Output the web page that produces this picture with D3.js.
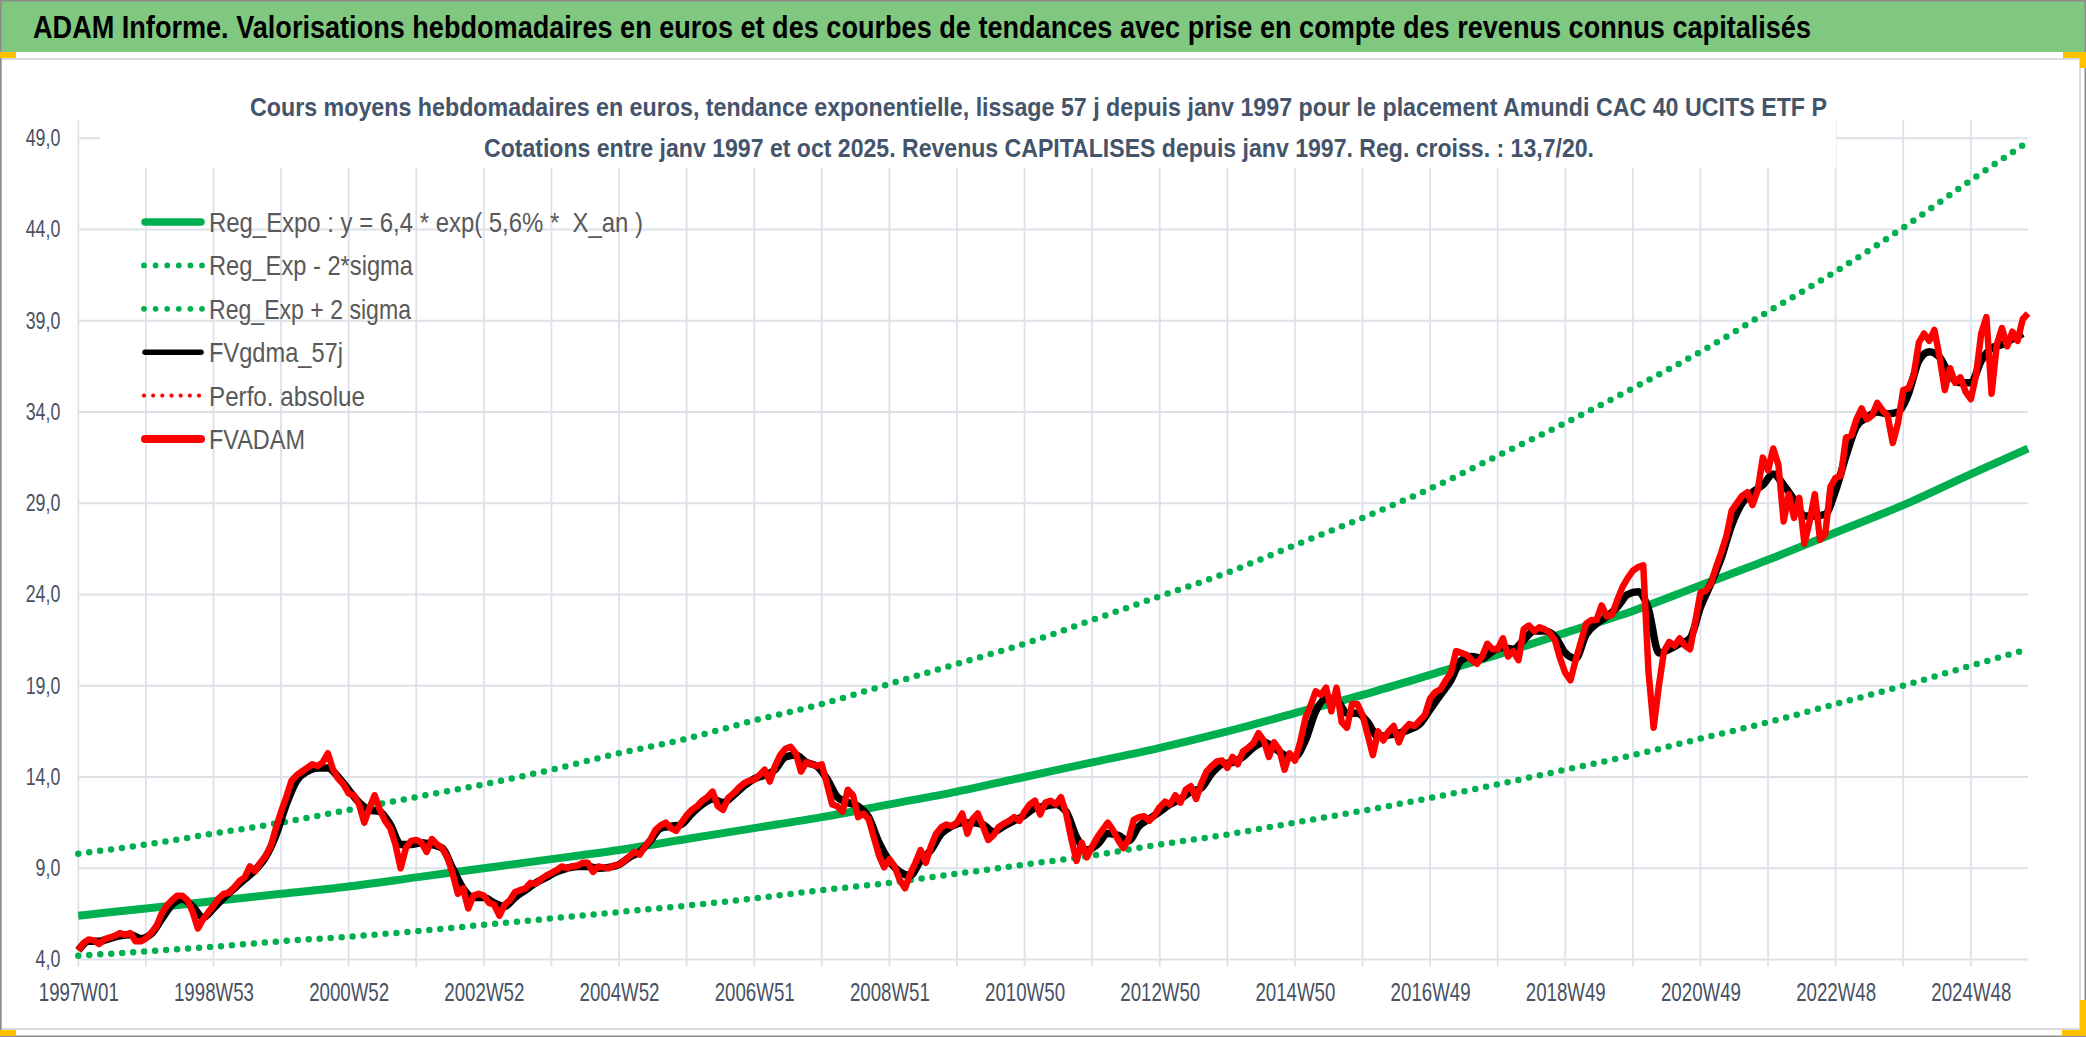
<!DOCTYPE html>
<html>
<head>
<meta charset="utf-8">
<script src="https://cdn.jsdelivr.net/npm/d3@7.9.0/dist/d3.min.js"></script>
<style>
  body { margin: 0; background: #fff; }
  svg { display: block; font-family: "Liberation Sans Narrow", "Arial Narrow", "Liberation Sans", sans-serif; }
</style>
</head>
<body>
<svg id="chart" width="2086" height="1037"></svg>
<script>
const width = 2086;
const height = 1037;
const plot = { left: 78.3, right: 2028, top: 120, bottom: 959.5 };

// FVADAM, one value every 4 weeks from 1997W01
const redStep = 4;
const fvadam = [
  4.5, 4.9, 5.1, 5.05, 4.85, 5.1, 5.2, 5.3, 5.45, 5.35,
  5.45, 5.0, 5.0, 5.15, 5.45, 5.8, 6.5, 6.95, 7.25, 7.5,
  7.5, 7.25, 6.6, 5.7, 6.2, 6.6, 6.95, 7.35, 7.6, 7.65,
  7.95, 8.3, 8.5, 9.1, 8.85, 9.3, 9.65, 10.2, 11.2, 12.1,
  12.9, 13.8, 14.1, 14.3, 14.5, 14.7, 14.6, 14.8, 15.3, 14.4,
  13.9, 13.6, 13.1, 13.0, 12.5, 11.5, 12.3, 13.0, 12.2, 11.6,
  11.2, 10.3, 9.0, 10.1, 10.5, 10.55, 10.4, 9.9, 10.6, 10.3,
  10.1, 9.6, 8.7, 7.6, 7.9, 6.8, 7.5, 7.6, 7.5, 7.1,
  7.0, 6.4, 7.0, 7.25, 7.7, 7.8, 7.9, 8.2, 8.15, 8.4,
  8.6, 8.75, 8.9, 9.1, 9.0, 9.1, 9.15, 9.3, 9.3, 8.8,
  9.1, 9.05, 9.0, 9.15, 9.2, 9.4, 9.65, 9.9, 9.75, 10.2,
  10.55, 11.1, 11.35, 11.5, 11.2, 11.05, 11.5, 11.9, 12.2, 12.4,
  12.7, 12.9, 13.2, 12.4, 12.2, 12.85, 13.1, 13.4, 13.65, 13.8,
  13.85, 14.1, 14.4, 13.75, 14.6, 15.2, 15.55, 15.65, 15.3, 14.3,
  14.8, 14.7, 14.6, 14.7, 13.6, 12.5, 12.4, 12.1, 13.3, 13.0,
  11.8, 12.0, 11.7, 10.7, 9.7, 9.05, 9.5, 9.1, 8.35, 7.9,
  8.7, 9.3, 10.0, 9.3, 10.2, 10.9, 11.25, 11.4, 11.3, 11.5,
  12.0, 10.9, 11.7, 12.0, 11.3, 10.55, 10.8, 11.25, 11.45, 11.6,
  11.8, 11.6, 12.1, 12.5, 12.7, 11.95, 12.6, 12.7, 12.5, 12.9,
  12.0, 10.6, 9.4, 10.4, 9.6, 10.2, 10.7, 11.1, 11.5, 11.1,
  10.55, 10.1, 10.6, 11.65, 11.8, 11.85, 11.6, 11.9, 12.35, 12.65,
  12.5, 13.0, 12.6, 13.3, 13.5, 12.8, 13.65, 14.3, 14.6, 14.85,
  14.9, 14.5, 15.1, 14.7, 15.4, 15.6, 15.85, 16.4, 16.0, 15.1,
  15.9, 15.5, 14.4, 15.3, 14.9, 15.9, 17.2, 17.9, 18.7, 18.5,
  18.9, 17.6, 18.9, 17.0, 16.7, 18.0, 18.0, 17.4, 16.3, 15.2,
  16.5, 16.0, 16.5, 16.8, 15.9, 16.6, 16.9, 16.8, 17.1, 17.4,
  18.3, 18.65, 18.8, 19.3, 19.7, 20.9, 20.8, 20.7, 20.4, 20.2,
  20.6, 21.3, 21.0, 21.0, 21.6, 20.6, 20.9, 20.4, 22.1, 22.3,
  22.0, 22.2, 22.1, 21.9, 21.5, 20.5, 19.7, 19.3, 20.4, 21.4,
  22.4, 22.6, 22.6, 23.4, 22.8, 22.9, 23.7, 24.4, 24.9, 25.3,
  25.5, 25.6, 19.8, 16.7, 19.0, 20.9, 21.4, 21.2, 21.6, 21.2,
  21.0, 22.5, 24.1, 24.2, 24.6, 25.5, 26.3, 27.2, 28.6, 29.0,
  29.4, 29.6, 28.9, 29.7, 31.5, 30.8, 32.0, 31.1, 28.0, 29.5,
  28.2, 29.3, 26.8, 28.0, 29.5, 27.0, 27.3, 29.9, 30.4, 30.5,
  32.6, 32.7, 33.6, 34.2, 33.6, 33.8, 34.5, 34.1, 33.8, 32.3,
  33.4, 35.2, 35.3, 36.0, 37.8, 38.3, 37.9, 38.5, 37.0, 35.2,
  36.4, 35.6, 35.9, 35.1, 34.7, 36.0, 38.3, 39.2, 35.0, 37.7,
  38.6, 37.6, 38.4, 37.9, 39.1, 39.4
];

// FVgdma_57j (smoothed), one value every 8 weeks
const blackStep = 8;
const fvgdma = [
  4.5, 5.0, 5.0, 5.15, 5.3, 5.35, 5.15, 5.4, 6.2, 7.0,
  7.3, 6.9, 6.3, 6.8, 7.4, 7.9, 8.4, 8.9, 9.6, 10.8,
  12.5, 13.8, 14.3, 14.5, 14.5, 14.0, 13.3, 12.6, 12.2, 12.1,
  11.4, 10.3, 10.3, 10.4, 10.3, 10.1, 9.0, 7.9, 7.4, 7.4,
  7.1, 6.9, 7.4, 7.8, 8.2, 8.5, 8.8, 9.0, 9.1, 9.1,
  9.0, 9.05, 9.2, 9.6, 9.9, 10.5, 11.2, 11.3, 11.4, 12.0,
  12.5, 12.8, 12.6, 13.0, 13.5, 13.9, 14.1, 14.4, 15.1, 15.2,
  14.8, 14.6, 13.9, 12.9, 12.6, 12.4, 11.8, 10.4, 9.4, 8.8,
  8.6, 9.4, 10.0, 10.9, 11.3, 11.5, 11.5, 11.4, 11.0, 11.3,
  11.6, 11.9, 12.3, 12.4, 12.5, 12.1, 10.7, 10.0, 10.3, 10.9,
  10.8, 10.5, 11.3, 11.7, 12.1, 12.5, 12.8, 13.2, 13.4, 14.2,
  14.7, 14.8, 15.1, 15.6, 15.9, 15.6, 15.2, 15.1, 16.0, 17.6,
  18.3, 18.2, 17.5, 17.5, 17.0, 16.2, 16.3, 16.4, 16.6, 16.9,
  17.7, 18.5, 19.3, 20.4, 20.6, 20.5, 20.9, 21.1, 21.0, 21.5,
  22.0, 22.0, 21.7, 20.8, 20.5, 21.8, 22.4, 22.8, 23.3, 24.0,
  24.15, 23.2, 20.8, 21.0, 21.3, 21.6, 23.3, 24.6, 26.0, 27.8,
  29.0, 29.6, 30.0, 30.6, 30.0, 29.2, 28.3, 28.3, 28.4, 29.7,
  31.6, 33.2, 33.7, 34.0, 33.9, 34.0, 35.0, 36.8, 37.3, 37.0,
  36.0, 35.6, 35.6, 36.8, 37.5, 37.7, 38.0, 38.3
];

// trend curves, read once a year (week index) and at the last week
const trendWeeks = [0, 52, 104, 156, 208, 260, 312, 364, 416, 468, 520, 572, 624, 676, 728,
  780, 832, 884, 936, 988, 1040, 1092, 1144, 1196, 1248, 1300, 1352, 1404, 1456, 1500];
const regExpo = [6.4, 6.8, 7.2, 7.6, 8.0, 8.5, 9.0, 9.5, 10.0, 10.6, 11.2, 11.8, 12.5, 13.2, 14.0,
  14.8, 15.6, 16.5, 17.5, 18.5, 19.6, 20.7, 21.9, 23.1, 24.5, 25.9, 27.4, 28.9, 30.6, 32.0];
const regHigh = [9.8, 10.3, 10.9, 11.5, 12.2, 12.9, 13.6, 14.4, 15.3, 16.1, 17.1, 18.0, 19.1, 20.2, 21.3,
  22.6, 23.9, 25.2, 26.7, 28.2, 29.8, 31.6, 33.4, 35.3, 37.3, 39.5, 41.7, 44.1, 46.7, 48.8];
const regLow = [4.2, 4.45, 4.7, 5.0, 5.25, 5.55, 5.9, 6.25, 6.6, 6.95, 7.35, 7.8, 8.2, 8.7, 9.2,
  9.7, 10.3, 10.85, 11.5, 12.15, 12.85, 13.6, 14.4, 15.2, 16.1, 17.0, 18.0, 19.0, 20.1, 21.0];

const xTickLabels = ["1997W01", "1998W53", "2000W52", "2002W52", "2004W52", "2006W51", "2008W51",
  "2010W50", "2012W50", "2014W50", "2016W49", "2018W49", "2020W49", "2022W48", "2024W48"];
const yTicks = [4, 9, 14, 19, 24, 29, 34, 39, 44, 49];

const legendLabels = ["Reg_Expo : y = 6,4 * exp( 5,6% *  X_an )", "Reg_Exp - 2*sigma",
  "Reg_Exp + 2 sigma", "FVgdma_57j", "Perfo. absolue", "FVADAM"];

const bannerTitle = "ADAM Informe. Valorisations hebdomadaires en euros et des courbes de tendances avec prise en compte des revenus connus capitalisés";
const chartTitle1 = "Cours moyens hebdomadaires en euros, tendance exponentielle, lissage 57 j depuis janv 1997 pour le placement Amundi CAC 40 UCITS ETF P";
const chartTitle2 = "Cotations entre janv 1997 et oct 2025. Revenus CAPITALISES depuis janv 1997. Reg. croiss. : 13,7/20.";

const GREEN = "#00b050";
const GRID = "#dde1e8";
const AXIS_TEXT = "#475163";

const svg = d3.select("#chart");

const x = d3.scaleLinear().domain([0, 1500]).range([plot.left, plot.right]);
const y = d3.scaleLinear().domain([4, 50]).range([plot.bottom, plot.top]);

// frame
svg.append("rect").attr("width", width).attr("height", height).attr("fill", "#fff");
svg.append("rect").attr("x", 0).attr("y", 0).attr("width", width).attr("height", 52).attr("fill", "#80c880");
svg.append("rect").attr("x", 1).attr("y", 59).attr("width", 2079).attr("height", 970)
  .attr("fill", "#fff").attr("stroke", "#d9d9d9").attr("stroke-width", 2);
svg.append("rect").attr("x", 0.75).attr("y", 0.75).attr("width", width - 1.5).attr("height", height - 1.5)
  .attr("fill", "none").attr("stroke", "#8c8c8c").attr("stroke-width", 1.5);

// excel selection handles
const yellow = "#ffc000";
svg.append("rect").attr("x", 0).attr("y", 52).attr("width", 16).attr("height", 6).attr("fill", yellow);
svg.append("rect").attr("x", 0).attr("y", 1030).attr("width", 16).attr("height", 6).attr("fill", yellow);
svg.append("path").attr("fill", yellow)
  .attr("d", "M2063,52H2086V68H2080V58H2063Z");
svg.append("path").attr("fill", yellow)
  .attr("d", "M2080,1000H2086V1036H2062V1030H2080Z");

// banner title
svg.append("text")
  .attr("x", 33).attr("y", 38)
  .attr("font-size", 31).attr("font-weight", "bold").attr("fill", "#000")
  .attr("textLength", 1778).attr("lengthAdjust", "spacingAndGlyphs")
  .text(bannerTitle);

// gridlines
const gridWeeks = d3.range(0, 1457, 52);
const grid = svg.append("g").attr("stroke", GRID).attr("stroke-width", 1.8);
grid.selectAll("line.v").data(gridWeeks).join("line")
  .attr("class", "v")
  .attr("x1", d => x(d)).attr("x2", d => x(d))
  .attr("y1", plot.top).attr("y2", plot.bottom + 7);
grid.selectAll("line.h").data(yTicks).join("line")
  .attr("class", "h")
  .attr("x1", plot.left).attr("x2", plot.right)
  .attr("y1", d => y(d)).attr("y2", d => y(d));

// chart title box (white, hides the top of the grid)
svg.append("rect").attr("x", 100).attr("y", 61).attr("width", 1736).attr("height", 107).attr("fill", "#fff");
svg.append("text")
  .attr("x", 250).attr("y", 116)
  .attr("font-size", 26).attr("font-weight", "bold").attr("fill", "#44546a")
  .attr("textLength", 1577).attr("lengthAdjust", "spacingAndGlyphs")
  .text(chartTitle1);
svg.append("text")
  .attr("x", 484).attr("y", 157)
  .attr("font-size", 26).attr("font-weight", "bold").attr("fill", "#44546a")
  .attr("textLength", 1110).attr("lengthAdjust", "spacingAndGlyphs")
  .text(chartTitle2);

// axes labels
const yAxis = svg.append("g")
  .attr("transform", `translate(${plot.left},0)`)
  .call(d3.axisLeft(y).tickValues(yTicks).tickSize(0).tickPadding(18)
    .tickFormat(d => d.toFixed(1).replace(".", ",")));
yAxis.select(".domain").remove();
yAxis.selectAll("text")
  .attr("font-family", null).attr("font-size", 23).attr("fill", AXIS_TEXT)
  .attr("textLength", function () { return (this.textContent.length - 1) * 9.9 + 4.9; })
  .attr("lengthAdjust", "spacingAndGlyphs");

const xAxis = svg.append("g")
  .attr("transform", `translate(0,${plot.bottom})`)
  .call(d3.axisBottom(x).tickValues(gridWeeks.filter((d, i) => i % 2 === 0)).tickSize(0).tickPadding(23)
    .tickFormat((d, i) => xTickLabels[i]));
xAxis.select(".domain").remove();
xAxis.selectAll("text")
  .attr("font-family", null).attr("font-size", 26).attr("fill", AXIS_TEXT)
  .attr("dy", "0.71em").attr("y", 23)
  .attr("textLength", 80).attr("lengthAdjust", "spacingAndGlyphs");

// series
const trendLine = d3.line().curve(d3.curveMonotoneX).x((d, i) => x(trendWeeks[i])).y(d => y(d));
const g = svg.append("g").attr("fill", "none").attr("stroke-linejoin", "round");

g.append("path").datum(regExpo).attr("d", trendLine)
  .attr("stroke", GREEN).attr("stroke-width", 8);
g.append("path").datum(regLow).attr("d", trendLine)
  .attr("stroke", GREEN).attr("stroke-width", 6.5)
  .attr("stroke-linecap", "round").attr("stroke-dasharray", "0 11");
g.append("path").datum(regHigh).attr("d", trendLine)
  .attr("stroke", GREEN).attr("stroke-width", 6.5)
  .attr("stroke-linecap", "round").attr("stroke-dasharray", "0 11");

g.append("path").datum(fvgdma)
  .attr("d", d3.line().curve(d3.curveMonotoneX).x((d, i) => x(i * blackStep)).y(d => y(d)))
  .attr("stroke", "#000").attr("stroke-width", 7.5);
g.append("path").datum(fvadam)
  .attr("d", d3.line().x((d, i) => x(i * redStep)).y(d => y(d)))
  .attr("stroke", "#ff0000").attr("stroke-width", 6.5);

// legend
const legendStyles = [
  { color: GREEN, width: 7.5, dash: null },
  { color: GREEN, width: 5.8, dash: "0 11.6" },
  { color: GREEN, width: 5.8, dash: "0 11.6" },
  { color: "#000", width: 5.5, dash: null },
  { color: "#ff0000", width: 4.2, dash: "0 9.17" },
  { color: "#ff0000", width: 8, dash: null }
];
const legendTextWidths = [434, 204, 202, 134, 156, 96];
const legend = svg.append("g");
legendLabels.forEach((label, i) => {
  const cy = 222 + i * 43.4;
  const s = legendStyles[i];
  legend.append("line")
    .attr("x1", s.dash ? 144 : 145).attr("x2", s.dash ? 202.5 : 201)
    .attr("y1", cy).attr("y2", cy)
    .attr("stroke", s.color).attr("stroke-width", s.width)
    .attr("stroke-linecap", "round")
    .attr("stroke-dasharray", s.dash);
  legend.append("text")
    .attr("x", 209).attr("y", cy + 10)
    .attr("font-size", 28).attr("fill", "#595959")
    .style("white-space", "pre")
    .attr("textLength", legendTextWidths[i]).attr("lengthAdjust", "spacingAndGlyphs")
    .text(label);
});
</script>
</body>
</html>
